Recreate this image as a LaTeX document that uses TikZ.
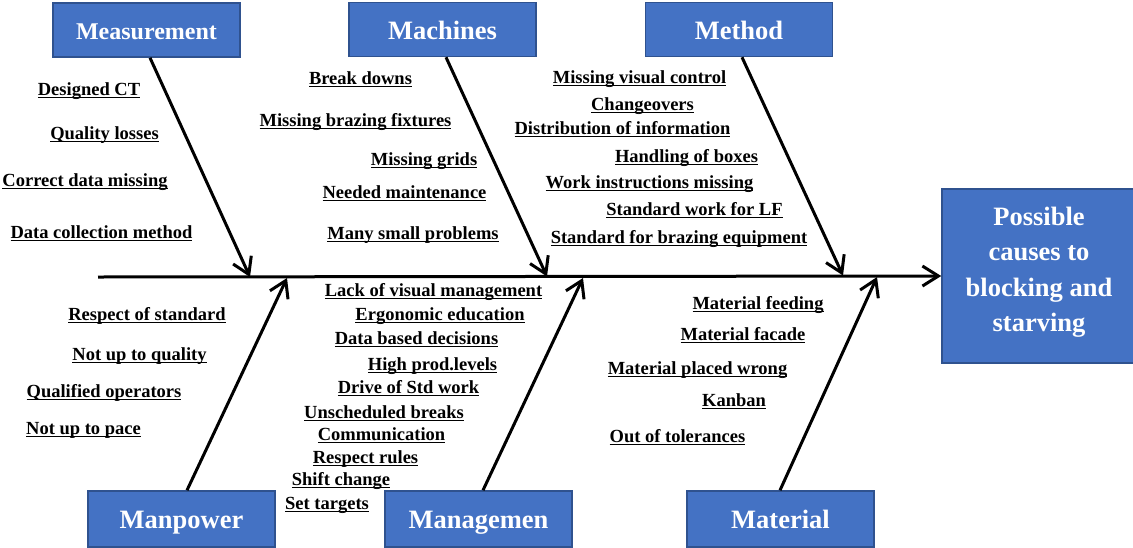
\documentclass[tikz,border=0pt]{standalone}
\usepackage{fontspec}
\setmainfont{Liberation Serif}
\usetikzlibrary{arrows.meta}
\definecolor{boxblue}{HTML}{4472C4}
\definecolor{boxedge}{HTML}{2F528F}
% Word-style underline: a rule at a fixed depth under the baseline
\newsavebox\causebox
\newcommand\ucause[1]{\sbox\causebox{#1}\rlap{\rule[-3pt]{\wd\causebox}{1.4pt}}\usebox\causebox}
\tikzset{
  catbox/.style={draw=boxedge, line width=1.5pt, fill=boxblue, text=white,
    font=\bfseries\fontsize{26.5}{30}\selectfont, inner sep=0pt,
    minimum width=187pt, minimum height=54pt, text height=23pt, text depth=3.4pt},
  lowbox/.style={catbox, minimum height=56pt},
  effectbox/.style={draw=boxedge, line width=1.5pt, fill=boxblue,
    minimum width=194pt, minimum height=174pt, inner sep=0pt},
  effecttext/.style={text=white, align=center, inner sep=0pt,
    font=\bfseries\fontsize{26.5}{35.5}\selectfont},
  cause/.style={font=\bfseries\fontsize{18.5}{22}\selectfont, anchor=base, inner sep=0pt},
  bone/.style={line width=3pt, -{Straight Barb[length=16pt,width=20pt]}},
}
\begin{document}
\begin{tikzpicture}[x=1pt, y=-1pt]
\useasboundingbox (0,0) rectangle (1133,547);

% effect box
\node[effectbox] (effect) at (1039,276) {};
\node[effecttext] (effectlabel) at (1039,272) {Possible\\causes to\\blocking and\\starving};

% category boxes
\node[catbox, font=\bfseries\fontsize{24}{28}\selectfont] (meas) at (146.5,30) {Measurement};
\node[catbox] (mach) at (442.5,29.5) {Machines};
\node[catbox] (meth) at (739,29.5) {Method};
\node[lowbox] (manp) at (181.5,519) {Manpower};
\node[lowbox] (mgmt) at (478.5,519) {Managemen};
\node[lowbox] (matl) at (780.5,519) {Material};

% spine
\coordinate (tail) at (98,277);
\draw[bone] (tail) -- (effect.west);

% branch tips on the spine
\coordinate (t1) at (250,277);
\coordinate (t2) at (547,276.5);
\coordinate (t3) at (843,275.5);
\coordinate (t4) at (287,278);
\coordinate (t5) at (583,278);
\coordinate (t6) at (877,277);

\draw[bone] ([xshift=3.5pt]meas.south) -- (t1);
\draw[bone] ([xshift=3.5pt]mach.south) -- (t2);
\draw[bone] ([xshift=3pt]meth.south) -- (t3);
\draw[bone] ([xshift=5.5pt]manp.north) -- (t4);
\draw[bone] ([xshift=4.5pt]mgmt.north) -- (t5);
\draw[bone] ([xshift=-0.5pt]matl.north) -- (t6);

% Measurement causes
\node[cause] (c11) at (89,95) {\ucause{Designed CT}};
\node[cause] (c12) at (104.5,139) {\ucause{Quality losses}};
\node[cause] (c13) at (85,186) {\ucause{Correct data missing}};
\node[cause] (c14) at (101.5,238) {\ucause{Data collection method}};

% Machines causes
\node[cause] (c21) at (360.5,84) {\ucause{Break downs}};
\node[cause] (c22) at (355.5,126) {\ucause{Missing brazing fixtures}};
\node[cause] (c23) at (424,165) {\ucause{Missing grids}};
\node[cause] (c24) at (404.5,198) {\ucause{Needed maintenance}};
\node[cause] (c25) at (413,239) {\ucause{Many small problems}};

% Method causes
\node[cause] (c31) at (639.5,83) {\ucause{Missing visual control}};
\node[cause] (c32) at (642.5,110) {\ucause{Changeovers}};
\node[cause] (c33) at (622.5,134) {\ucause{Distribution of information}};
\node[cause] (c34) at (686.5,162) {\ucause{Handling of boxes}};
\node[cause] (c35) at (649.5,188) {\ucause{Work instructions missing}};
\node[cause] (c36) at (694.5,215) {\ucause{Standard work for LF}};
\node[cause] (c37) at (679,243) {\ucause{Standard for brazing equipment}};

% Manpower causes
\node[cause] (c41) at (147,320) {\ucause{Respect of standard}};
\node[cause] (c42) at (139.5,360) {\ucause{Not up to quality}};
\node[cause] (c43) at (104,397) {\ucause{Qualified operators}};
\node[cause] (c44) at (83.5,434) {\ucause{Not up to pace}};

% Management causes
\node[cause] (c51) at (433.5,296) {\ucause{Lack of visual management}};
\node[cause] (c52) at (440,320) {\ucause{Ergonomic education}};
\node[cause] (c53) at (416.5,344) {\ucause{Data based decisions}};
\node[cause] (c54) at (432.5,370) {\ucause{High prod.levels}};
\node[cause] (c55) at (408.5,393) {\ucause{Drive of Std work}};
\node[cause] (c56) at (384,418) {\ucause{Unscheduled breaks}};
\node[cause] (c57) at (381.5,440) {\ucause{Communication}};
\node[cause] (c58) at (365.5,463) {\ucause{Respect rules}};
\node[cause] (c59) at (341,485) {\ucause{Shift change}};
\node[cause] (c510) at (327,509) {\ucause{Set targets}};

% Material causes
\node[cause] (c61) at (758,309) {\ucause{Material feeding}};
\node[cause] (c62) at (743,340) {\ucause{Material facade}};
\node[cause] (c63) at (697.5,374) {\ucause{Material placed wrong}};
\node[cause] (c64) at (734,406) {\ucause{Kanban}};
\node[cause] (c65) at (677.5,442) {\ucause{Out of tolerances}};
\end{tikzpicture}
\end{document}
